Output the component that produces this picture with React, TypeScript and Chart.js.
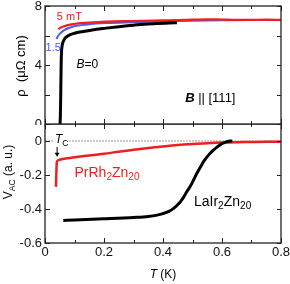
import React, { useEffect, useRef } from "react";
import { Chart, registerables } from "chart.js";
Chart.register(...registerables);

const FONT = "'Liberation Sans', Arial, Helvetica, sans-serif";

// Upper panel: resistivity rho (μΩ cm) vs T (K)
const T_B0 = [0.051, 0.052, 0.053, 0.054, 0.055, 0.056, 0.058, 0.061, 0.065, 0.07, 0.077, 0.084, 0.1, 0.129, 0.16, 0.207, 0.25, 0.3, 0.336, 0.38, 0.42, 0.447];
const RHO_B0 = [0, 0.5, 1.5, 3, 4.3, 4.9, 5.3, 5.55, 5.72, 5.86, 5.97, 6.05, 6.15, 6.27, 6.38, 6.5, 6.6, 6.7, 6.77, 6.81, 6.84, 6.86];
const T_B15 = [0.039, 0.045, 0.062, 0.095, 0.15, 0.207, 0.3, 0.4, 0.5, 0.6, 0.7, 0.8];
const RHO_B15 = [5.76, 6.0, 6.32, 6.61, 6.76, 6.84, 6.9, 6.96, 7.0, 7.03, 7.05, 7.05];
const T_B5 = [0.045, 0.05, 0.062, 0.095, 0.15, 0.207, 0.3, 0.4, 0.45, 0.5, 0.55, 0.6, 0.65, 0.7, 0.75, 0.8];
const RHO_B5 = [6.43, 6.5, 6.61, 6.77, 6.87, 6.94, 6.98, 7.02, 7.04, 7.07, 7.1, 7.08, 7.06, 7.06, 7.07, 7.06];

// Lower panel: V_AC (a. u.) vs T (K)
const T_PR = [0.037, 0.038, 0.039, 0.04, 0.043, 0.05, 0.07, 0.1, 0.15, 0.2, 0.25, 0.3, 0.35, 0.4, 0.45, 0.5, 0.55, 0.6, 0.65, 0.7, 0.75, 0.8];
const V_PR = [-0.27, -0.22, -0.16, -0.125, -0.115, -0.11, -0.103, -0.095, -0.085, -0.075, -0.063, -0.052, -0.041, -0.032, -0.024, -0.018, -0.013, -0.009, -0.007, -0.006, -0.005, -0.005];
const T_LA = [0.062, 0.1, 0.2, 0.3, 0.35, 0.38, 0.4, 0.42, 0.435, 0.448, 0.46, 0.47, 0.48, 0.493, 0.504, 0.515, 0.527, 0.538, 0.55, 0.56, 0.572, 0.583, 0.594, 0.605, 0.614, 0.622, 0.635];
const V_LA = [-0.467, -0.465, -0.458, -0.45, -0.444, -0.436, -0.427, -0.414, -0.398, -0.378, -0.355, -0.33, -0.3, -0.265, -0.228, -0.19, -0.153, -0.12, -0.092, -0.072, -0.052, -0.036, -0.022, -0.012, -0.005, -0.001, 0];
const T_ZERO = [0, 0.8];
const V_ZERO = [0, 0];

const X_TICKS = [0, 0.1, 0.2, 0.3, 0.4, 0.5, 0.6, 0.7, 0.8];
const RHO_TICKS = [0, 2, 4, 6, 8];
const V_TICKS = [0, -0.2, -0.4, -0.6];

const T_C_POS = 0.041;

const pts = (xs: number[], ys: number[]) => xs.map((x, i) => ({ x, y: ys[i] }));

type Seg = { t: string; sub?: boolean; italic?: boolean; bold?: boolean };
function drawRich(ctx: CanvasRenderingContext2D, segs: Seg[], x: number, y: number, size: number, color: string, bg?: boolean) {
  ctx.save();
  ctx.textBaseline = "middle";
  ctx.textAlign = "left";
  let total = 0;
  const widths = segs.map((s) => {
    const fs = s.sub ? size * 0.72 : size;
    ctx.font = `${s.italic ? "italic " : ""}${s.bold ? "bold " : ""}${fs}px ${FONT}`;
    const w = ctx.measureText(s.t).width;
    total += w;
    return w;
  });
  if (bg) {
    ctx.fillStyle = "#fff";
    ctx.fillRect(x - 1, y - size * 0.6, total + 2, size * 1.3);
  }
  ctx.fillStyle = color;
  let cx = x;
  segs.forEach((s, i) => {
    const fs = s.sub ? size * 0.72 : size;
    ctx.font = `${s.italic ? "italic " : ""}${s.bold ? "bold " : ""}${fs}px ${FONT}`;
    ctx.fillText(s.t, cx, s.sub ? y + size * 0.3 : y);
    cx += widths[i];
  });
  ctx.restore();
}

function richWidth(ctx: CanvasRenderingContext2D, segs: Seg[], size: number) {
  ctx.save();
  let w = 0;
  segs.forEach((s) => {
    const fs = s.sub ? size * 0.72 : size;
    ctx.font = `${s.italic ? "italic " : ""}${s.bold ? "bold " : ""}${fs}px ${FONT}`;
    w += ctx.measureText(s.t).width;
  });
  ctx.restore();
  return w;
}

function framePlugin(yTicks: number[], top: boolean) {
  return {
    id: "frame",
    afterDatasetsDraw(chart: any) {
      const { ctx, chartArea: a, scales } = chart;
      const xs = scales.x;
      const ys = scales.y;
      ctx.save();
      ctx.strokeStyle = "#222";
      ctx.lineWidth = 1.3;
      ctx.strokeRect(a.left, a.top, a.right - a.left, a.bottom - a.top);
      ctx.lineWidth = 1;
      ctx.beginPath();
      X_TICKS.forEach((v) => {
        const px = Math.round(xs.getPixelForValue(v)) + 0.5;
        const major = Math.round(v * 10) % 2 === 0;
        const len = major ? 5 : 3;
        ctx.moveTo(px, a.bottom);
        ctx.lineTo(px, a.bottom - len);
        ctx.moveTo(px, a.top);
        ctx.lineTo(px, a.top + len);
      });
      yTicks.forEach((v) => {
        const py = Math.round(ys.getPixelForValue(v)) + 0.5;
        ctx.moveTo(a.left, py);
        ctx.lineTo(a.left + 5, py);
        ctx.moveTo(a.right, py);
        ctx.lineTo(a.right - 4, py);
      });
      ctx.stroke();
      ctx.restore();

      if (top) {
        drawRich(ctx, [{ t: "5 mT" }], xs.getPixelForValue(0.04), ys.getPixelForValue(7.27), 11, "#f01e1e");
        drawRich(ctx, [{ t: "1.5" }], xs.getPixelForValue(0.002), ys.getPixelForValue(5.17), 11, "#4b5cf0");
        drawRich(ctx, [{ t: "B", italic: true }, { t: "=0" }], xs.getPixelForValue(0.107), ys.getPixelForValue(4.0), 12, "#000");
        drawRich(ctx, [{ t: "B", italic: true, bold: true }, { t: " || [111]" }], xs.getPixelForValue(0.475), ys.getPixelForValue(1.76), 13, "#000");
        ctx.save();
        ctx.translate(21, 66);
        ctx.rotate(-Math.PI / 2);
        ctx.font = `13px ${FONT}`;
        ctx.fillStyle = "#000";
        ctx.textAlign = "center";
        ctx.textBaseline = "middle";
        ctx.fillText("ρ  (μΩ cm)", 0, 0);
        ctx.restore();
      } else {
        drawRich(ctx, [{ t: "T", italic: true }, { t: "C", sub: true }], xs.getPixelForValue(0.034), ys.getPixelForValue(0.005), 12, "#000", true);
        const ax = xs.getPixelForValue(T_C_POS);
        const y0 = ys.getPixelForValue(-0.035);
        const y1 = ys.getPixelForValue(-0.093);
        ctx.save();
        ctx.strokeStyle = "#000";
        ctx.fillStyle = "#000";
        ctx.lineWidth = 1;
        ctx.beginPath();
        ctx.moveTo(ax, y0);
        ctx.lineTo(ax, y1 - 3);
        ctx.stroke();
        ctx.beginPath();
        ctx.moveTo(ax - 2.5, y1 - 4);
        ctx.lineTo(ax + 2.5, y1 - 4);
        ctx.lineTo(ax, y1);
        ctx.closePath();
        ctx.fill();
        ctx.restore();
        drawRich(ctx, [{ t: "PrRh" }, { t: "2", sub: true }, { t: "Zn" }, { t: "20", sub: true }], xs.getPixelForValue(0.1), ys.getPixelForValue(-0.188), 14, "#f01e1e");
        drawRich(ctx, [{ t: "LaIr" }, { t: "2", sub: true }, { t: "Zn" }, { t: "20", sub: true }], xs.getPixelForValue(0.505), ys.getPixelForValue(-0.359), 14, "#000");
        const segs: Seg[] = [{ t: "V" }, { t: "AC", sub: true }, { t: " (a. u.)" }];
        const w = richWidth(ctx, segs, 12);
        ctx.save();
        ctx.translate(9, 48);
        ctx.rotate(-Math.PI / 2);
        drawRich(ctx, segs, -w / 2, 0, 12, "#000");
        ctx.restore();
        const xt: Seg[] = [{ t: "T", italic: true }, { t: " (K)" }];
        const wx = richWidth(ctx, xt, 12);
        const cx = (a.left + a.right) / 2;
        drawRich(ctx, xt, cx - wx / 2, a.bottom + 32, 12, "#000");
      }
    },
  };
}

export default function App() {
  const topRef = useRef<HTMLCanvasElement>(null);
  const botRef = useRef<HTMLCanvasElement>(null);

  useEffect(() => {
    const tickFont = { size: 13, family: FONT };
    const top = new Chart(topRef.current!, {
      type: "line",
      data: {
        datasets: [
          { data: pts(T_B0, RHO_B0), borderColor: "#000", borderWidth: 3, pointRadius: 0, cubicInterpolationMode: "monotone" },
          { data: pts(T_B5, RHO_B5), borderColor: "#f01e1e", borderWidth: 2.2, pointRadius: 0, cubicInterpolationMode: "monotone" },
          { data: pts(T_B15, RHO_B15), borderColor: "#4b5cf0", borderWidth: 2, pointRadius: 0, cubicInterpolationMode: "monotone" },
        ],
      } as any,
      options: {
        responsive: false,
        animation: false,
        events: [],
        layout: { padding: { top: 6, right: 9, bottom: 1, left: 0 } },
        plugins: { legend: { display: false }, tooltip: { enabled: false } },
        scales: {
          x: {
            type: "linear", min: 0, max: 0.8,
            ticks: { display: false, stepSize: 0.1 },
            grid: { display: false, drawTicks: false },
            border: { display: false },
            afterFit: (s: any) => { s.height = 0; s.paddingLeft = 0; s.paddingRight = 0; },
          },
          y: {
            type: "linear", min: 0, max: 8,
            ticks: { stepSize: 2, font: tickFont, color: "#111", padding: 3, callback: (v: any) => (v % 4 === 0 ? String(v) : "") },
            grid: { display: false, drawTicks: false },
            border: { display: false },
            afterFit: (s: any) => { s.width = 45; s.paddingTop = 0; s.paddingBottom = 0; },
          },
        },
      } as any,
      plugins: [framePlugin(RHO_TICKS, true)],
    });

    const bot = new Chart(botRef.current!, {
      type: "line",
      data: {
        datasets: [
          { data: pts(T_LA, V_LA), borderColor: "#000", borderWidth: 3, pointRadius: 0, cubicInterpolationMode: "monotone" },
          { data: pts(T_PR, V_PR), borderColor: "#f01e1e", borderWidth: 2.5, pointRadius: 0, cubicInterpolationMode: "monotone" },
          { data: pts(T_ZERO, V_ZERO), borderColor: "#999", borderWidth: 1, borderDash: [2, 1], pointRadius: 0 },
        ],
      } as any,
      options: {
        responsive: false,
        animation: false,
        events: [],
        layout: { padding: { top: 0, right: 9, bottom: 0, left: 0 } },
        plugins: { legend: { display: false }, tooltip: { enabled: false } },
        scales: {
          x: {
            type: "linear", min: 0, max: 0.8,
            ticks: {
              stepSize: 0.1, font: tickFont, color: "#111", padding: 2, maxRotation: 0, autoSkip: false,
              callback: (v: any) => {
                const k = Math.round(v * 10);
                if (k % 2 !== 0) return "";
                return k === 0 ? "0" : (k / 10).toFixed(1);
              },
            },
            grid: { display: false, drawTicks: false },
            border: { display: false },
            afterFit: (s: any) => { s.height = 41; s.paddingLeft = 0; s.paddingRight = 0; },
          },
          y: {
            type: "linear", min: -0.6, max: 0.1,
            ticks: {
              stepSize: 0.2, font: tickFont, color: "#111", padding: 3,
              callback: (v: any) => (Math.abs(v) < 1e-9 ? "0" : Number(v).toFixed(1)),
            },
            afterBuildTicks: (s: any) => { s.ticks = s.ticks.filter((t: any) => t.value < 0.01); },
            grid: { display: false, drawTicks: false },
            border: { display: false },
            afterFit: (s: any) => { s.width = 45; s.paddingTop = 0; s.paddingBottom = 0; },
          },
        },
      } as any,
      plugins: [framePlugin(V_TICKS, false)],
    });

    return () => { top.destroy(); bot.destroy(); };
  }, []);

  return (
    <div style={{ position: "absolute", left: 0, top: 0, width: 290, height: 284, background: "#fff" }}>
      <canvas ref={topRef} width={290} height={125} style={{ position: "absolute", left: 0, top: 0, display: "block" }} />
      <canvas ref={botRef} width={290} height={160} style={{ position: "absolute", left: 0, top: 124, display: "block" }} />
    </div>
  );
}
